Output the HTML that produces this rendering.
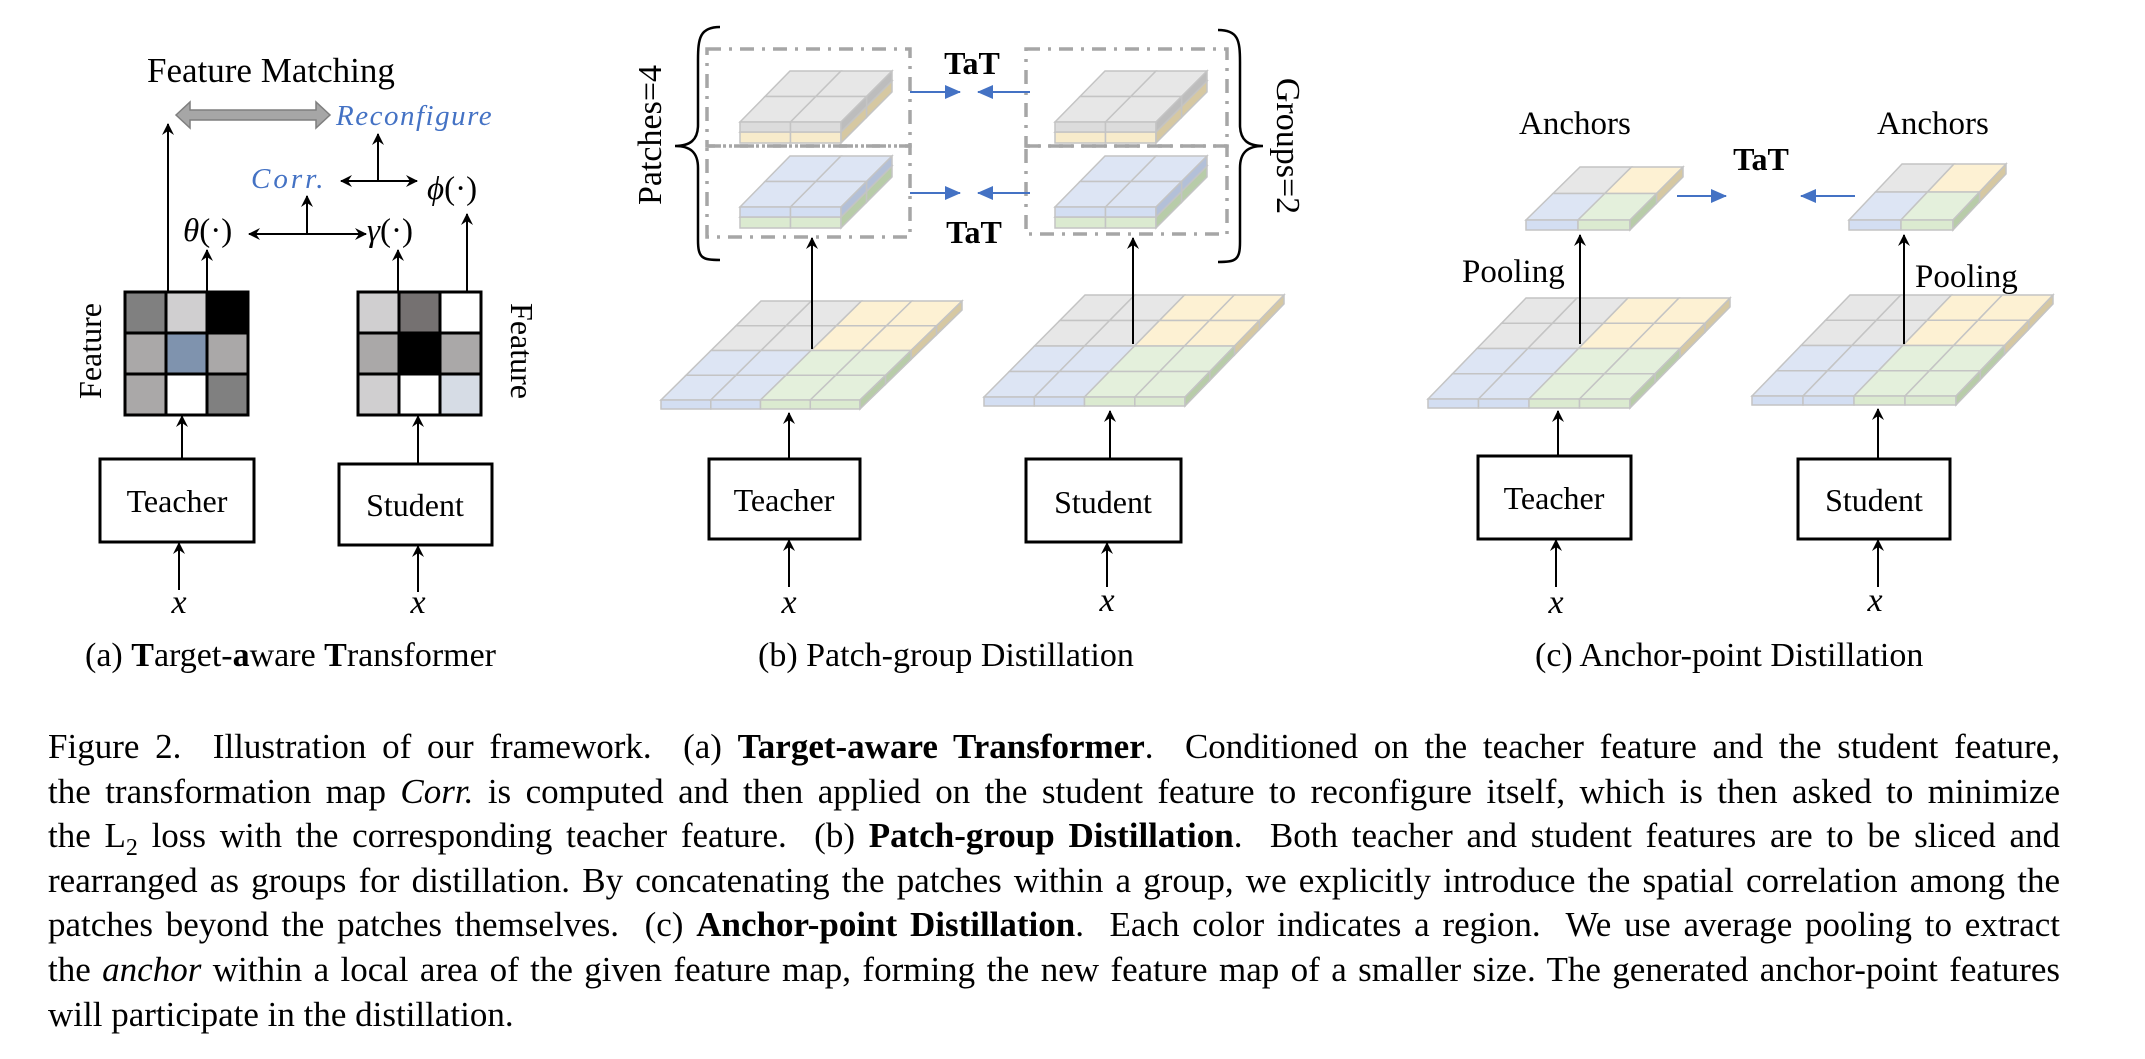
<!DOCTYPE html>
<html><head><meta charset="utf-8">
<style>
html,body{margin:0;padding:0;background:#fff;}
body{width:2145px;height:1059px;position:relative;overflow:hidden;font-family:"Liberation Serif",serif;}
svg{position:absolute;left:0;top:0;}
.cap{position:absolute;left:48px;width:2012px;font-size:35px;line-height:44.6px;color:#000;}
.cap div{text-align:justify;text-align-last:justify;white-space:nowrap;}
.cap div.l{text-align-last:left;}
</style></head><body>
<svg id="s" width="2145" height="1059" viewBox="0 0 2145 1059" font-family="Liberation Serif, serif">
<defs>
<marker id="ah" viewBox="0 0 12 12" refX="11" refY="6" markerWidth="12" markerHeight="12" markerUnits="userSpaceOnUse" orient="auto"><path d="M0,0 L12,6 L0,12 L4,6 z" fill="#000"/></marker>
<marker id="bh" viewBox="0 0 16 14" refX="15" refY="7" markerWidth="16" markerHeight="14" markerUnits="userSpaceOnUse" orient="auto"><path d="M0,0 L16,7 L0,14 z" fill="#4472c4"/></marker>
</defs>
<g id="maps"></g>
<!-- ===== (a) ===== -->
<text x="147" y="82" font-size="35">Feature Matching</text>
<polygon points="176,115 190,102 190,110 316,110 316,102 330,115 316,128 316,120 190,120 190,128" fill="#a6a6a6" stroke="#7f7f7f" stroke-width="1.5"/>
<text x="336" y="125" font-size="29" font-style="italic" fill="#4472c4" letter-spacing="1.5">Reconfigure</text>
<text x="251" y="188" font-size="29" font-style="italic" fill="#4472c4" letter-spacing="3">Corr.</text>
<text x="427" y="199" font-size="33"><tspan font-style="italic">ϕ</tspan>(·)</text>
<text x="183" y="241" font-size="33" font-style="italic">θ<tspan font-style="normal">(·)</tspan></text>
<text x="367" y="241" font-size="33" font-style="italic">γ<tspan font-style="normal">(·)</tspan></text>
<g stroke="#000" stroke-width="2" fill="none">
<line x1="168" y1="292" x2="168" y2="124" marker-end="url(#ah)"/>
<line x1="378" y1="181" x2="378" y2="134" marker-end="url(#ah)"/>
<line x1="378" y1="181" x2="341" y2="181" marker-end="url(#ah)"/>
<line x1="378" y1="181" x2="417" y2="181" marker-end="url(#ah)"/>
<line x1="307" y1="234" x2="307" y2="196" marker-end="url(#ah)"/>
<line x1="307" y1="234" x2="249" y2="234" marker-end="url(#ah)"/>
<line x1="307" y1="234" x2="366" y2="234" marker-end="url(#ah)"/>
<line x1="207" y1="292" x2="207" y2="250" marker-end="url(#ah)"/>
<line x1="398" y1="292" x2="398" y2="250" marker-end="url(#ah)"/>
<line x1="467" y1="292" x2="467" y2="214" marker-end="url(#ah)"/>
<line x1="182" y1="459" x2="182" y2="416" marker-end="url(#ah)"/>
<line x1="418" y1="464" x2="418" y2="416" marker-end="url(#ah)"/>
<line x1="179" y1="590" x2="179" y2="543" marker-end="url(#ah)"/>
<line x1="418" y1="592" x2="418" y2="546" marker-end="url(#ah)"/>
</g>
<g stroke="#000" stroke-width="3">
<rect x="125" y="292" width="41" height="41" fill="#808080"/><rect x="166" y="292" width="41" height="41" fill="#d0cfd0"/><rect x="207" y="292" width="41" height="41" fill="#000"/>
<rect x="125" y="333" width="41" height="41" fill="#aaa8a8"/><rect x="166" y="333" width="41" height="41" fill="#7f93ae"/><rect x="207" y="333" width="41" height="41" fill="#aaa8a8"/>
<rect x="125" y="374" width="41" height="41" fill="#aaa8a8"/><rect x="166" y="374" width="41" height="41" fill="#fff"/><rect x="207" y="374" width="41" height="41" fill="#808080"/>
<rect x="358" y="292" width="41" height="41" fill="#d0cfd0"/><rect x="399" y="292" width="41" height="41" fill="#757171"/><rect x="440" y="292" width="41" height="41" fill="#fff"/>
<rect x="358" y="333" width="41" height="41" fill="#aaa8a8"/><rect x="399" y="333" width="41" height="41" fill="#000"/><rect x="440" y="333" width="41" height="41" fill="#aaa8a8"/>
<rect x="358" y="374" width="41" height="41" fill="#d0cfd0"/><rect x="399" y="374" width="41" height="41" fill="#fff"/><rect x="440" y="374" width="41" height="41" fill="#d6dce5"/>
</g>
<text transform="translate(101,351) rotate(-90)" font-size="32" text-anchor="middle">Feature</text>
<text transform="translate(511,351) rotate(90)" font-size="32" text-anchor="middle">Feature</text>
<g stroke="#000" stroke-width="3" fill="#fff">
<rect x="100" y="459" width="154" height="83"/>
<rect x="339" y="464" width="153" height="81"/>
<rect x="709" y="459" width="151" height="80"/>
<rect x="1026" y="459" width="155" height="83"/>
<rect x="1478" y="456" width="153" height="83"/>
<rect x="1798" y="459" width="152" height="80"/>
</g>
<g font-size="32" text-anchor="middle">
<text x="177" y="512">Teacher</text>
<text x="415" y="516">Student</text>
<text x="784" y="511">Teacher</text>
<text x="1103" y="513">Student</text>
<text x="1554" y="509">Teacher</text>
<text x="1874" y="511">Student</text>
</g>
<g font-size="34" font-style="italic" text-anchor="middle">
<text x="179" y="613">x</text><text x="418" y="613">x</text>
<text x="789" y="613">x</text><text x="1107" y="611">x</text>
<text x="1556" y="613">x</text><text x="1875" y="611">x</text>
</g>
<g font-size="34">
<text x="85" y="666">(a) <tspan font-weight="bold">T</tspan>arget-<tspan font-weight="bold">a</tspan>ware  <tspan font-weight="bold">T</tspan>ransformer</text>
<text x="758" y="666">(b) Patch-group Distillation</text>
<text x="1535" y="666">(c) Anchor-point Distillation</text>
</g>
<!-- ===== (b) ===== -->
<g stroke="#a6a6a6" stroke-width="3.5" fill="none" stroke-dasharray="14 8 3 8">
<rect x="707" y="49" width="203" height="97"/>
<rect x="707" y="146" width="203" height="91"/>
<rect x="1026" y="49" width="201" height="97"/>
<rect x="1026" y="146" width="201" height="88"/>
</g>
<path d="M720,27 C700,27 698,38 698,60 L698,125 C698,140 690,146 675,146 C690,146 698,152 698,168 L698,240 C698,258 702,260 720,260" stroke="#000" stroke-width="2.5" fill="none"/>
<path d="M1218,30 C1238,30 1240,40 1240,62 L1240,125 C1240,140 1248,146 1263,146 C1248,146 1240,152 1240,168 L1240,242 C1240,260 1236,262 1218,262" stroke="#000" stroke-width="2.5" fill="none"/>
<text transform="translate(661,135) rotate(-90)" font-size="34" text-anchor="middle">Patches=4</text>
<text transform="translate(1277,146) rotate(90)" font-size="34" text-anchor="middle">Groups=2</text>
<text x="972" y="74" font-size="32" font-weight="bold" text-anchor="middle">TaT</text>
<text x="974" y="243" font-size="32" font-weight="bold" text-anchor="middle">TaT</text>
<g stroke="#4472c4" stroke-width="2" fill="none">
<line x1="910" y1="92" x2="960" y2="92" marker-end="url(#bh)"/>
<line x1="1030" y1="92" x2="978" y2="92" marker-end="url(#bh)"/>
<line x1="910" y1="193" x2="960" y2="193" marker-end="url(#bh)"/>
<line x1="1030" y1="193" x2="978" y2="193" marker-end="url(#bh)"/>
<line x1="1677" y1="196" x2="1726" y2="196" marker-end="url(#bh)"/>
<line x1="1855" y1="196" x2="1801" y2="196" marker-end="url(#bh)"/>
</g>
<!-- ===== (c) ===== -->
<text x="1519" y="134" font-size="33">Anchors</text>
<text x="1877" y="134" font-size="33">Anchors</text>
<text x="1761" y="170" font-size="32" font-weight="bold" text-anchor="middle">TaT</text>
<text x="1462" y="282" font-size="33">Pooling</text>
<text x="1915" y="287" font-size="33">Pooling</text>
<g id="arrows2" stroke="#000" stroke-width="2" fill="none">
<line x1="789" y1="459" x2="789" y2="413" marker-end="url(#ah)"/>
<line x1="1110" y1="459" x2="1110" y2="411" marker-end="url(#ah)"/>
<line x1="789" y1="587" x2="789" y2="540" marker-end="url(#ah)"/>
<line x1="1107" y1="587" x2="1107" y2="543" marker-end="url(#ah)"/>
<line x1="1558" y1="456" x2="1558" y2="411" marker-end="url(#ah)"/>
<line x1="1878" y1="459" x2="1878" y2="409" marker-end="url(#ah)"/>
<line x1="1556" y1="587" x2="1556" y2="540" marker-end="url(#ah)"/>
<line x1="1878" y1="587" x2="1878" y2="540" marker-end="url(#ah)"/>
</g>
<g id="top" stroke="#000" stroke-width="2" fill="none"></g>
</svg>
<div class="cap" style="top:725px">
<div>Figure 2.&nbsp; Illustration of our framework.&nbsp; (a) <b>Target-aware Transformer</b>.&nbsp; Conditioned on the teacher feature and the student feature,</div>
<div>the transformation map <i>Corr.</i> is computed and then applied on the student feature to reconfigure itself, which is then asked to minimize</div>
<div>the L<sub style="font-size:24px;line-height:0">2</sub> loss with the corresponding teacher feature.&nbsp; (b) <b>Patch-group Distillation</b>.&nbsp; Both teacher and student features are to be sliced and</div>
<div>rearranged as groups for distillation. By concatenating the patches within a group, we explicitly introduce the spatial correlation among the</div>
<div>patches beyond the patches themselves.&nbsp; (c) <b>Anchor-point Distillation</b>.&nbsp; Each color indicates a region.&nbsp; We use average pooling to extract</div>
<div>the <i>anchor</i> within a local area of the given feature map, forming the new feature map of a smaller size. The generated anchor-point features</div>
<div class="l">will participate in the distillation.</div>
</div>
<script>
(function(){
var NS="http://www.w3.org/2000/svg";
var g=document.getElementById("maps");
var C={g:["#e7e7e7","#dcdcdc","#bdbdbd"],y:["#fdf1d3","#f7ebcb","#d6c8a2"],b:["#dde5f4","#d3def2","#b3c0d8"],gr:["#e4f0dc","#dbead0","#b8cca9"]};
function poly(pts,fill,stroke){var p=document.createElementNS(NS,"polygon");p.setAttribute("points",pts.map(function(a){return a[0].toFixed(1)+","+a[1].toFixed(1)}).join(" "));p.setAttribute("fill",fill);p.setAttribute("stroke",stroke||"#c4c4c4");p.setAttribute("stroke-width","1.5");g.appendChild(p);}
function lerp(a,b,t){return [a[0]+(b[0]-a[0])*t,a[1]+(b[1]-a[1])*t];}
function map(BL,BR,FL,FR,n,t,colf){
 function P(r,c){var L=lerp(BL,FL,r/n),R=lerp(BR,FR,r/n);return lerp(L,R,c/n);}
 for(var r=0;r<n;r++)for(var c=0;c<n;c++){
  var col=C[colf(r,c)];
  poly([P(r,c),P(r,c+1),P(r+1,c+1),P(r+1,c)],col[0]);
  if(r==n-1){var a=P(n,c),b=P(n,c+1);poly([a,b,[b[0],b[1]+t],[a[0],a[1]+t]],col[1]);}
  if(c==n-1){var a=P(r,n),b=P(r+1,n);poly([a,b,[b[0],b[1]+t],[a[0],a[1]+t]],col[2]);}
 }
}
function quad(n){return function(r,c){var top=r<n/2,left=c<n/2;return top?(left?"g":"y"):(left?"b":"gr");};}
function sh(p,dx,dy){return [p[0]+dx,p[1]+dy];}
function stack(BL,BR,FL,FR,top,bot){
 map(sh(BL,0,10),sh(BR,0,10),sh(FL,0,10),sh(FR,0,10),2,11,function(){return bot;});
 map(BL,BR,FL,FR,2,10,function(){return top;});
}
map([761,301],[962,301],[661,400],[860,400],4,9,quad(4));
map([1085,295],[1284,295],[984,397],[1185,397],4,9,quad(4));
stack([790,71],[892,71],[740,122],[841,122],"g","y");
stack([790,156],[892,156],[740,207],[841,207],"b","gr");
stack([1105,71],[1207,71],[1055,122],[1156,122],"g","y");
stack([1105,156],[1207,156],[1055,207],[1156,207],"b","gr");
map([1526,298],[1730,298],[1428,399],[1630,399],4,9,quad(4));
map([1850,295],[2053,295],[1752,396],[1956,396],4,9,quad(4));
map([1580,167],[1683,167],[1526,220],[1630,220],2,10,quad(2));
map([1902,164],[2006,164],[1849,220],[1953,220],2,10,quad(2));
var t=document.getElementById("top");
[[812,349,812,238],[1133,344,1133,238],[1580,344,1580,235],[1904,344,1904,235]].forEach(function(a){
 var l=document.createElementNS(NS,"line");l.setAttribute("x1",a[0]);l.setAttribute("y1",a[1]);l.setAttribute("x2",a[2]);l.setAttribute("y2",a[3]);l.setAttribute("marker-end","url(#ah)");t.appendChild(l);});
})();
</script>
</body></html>
